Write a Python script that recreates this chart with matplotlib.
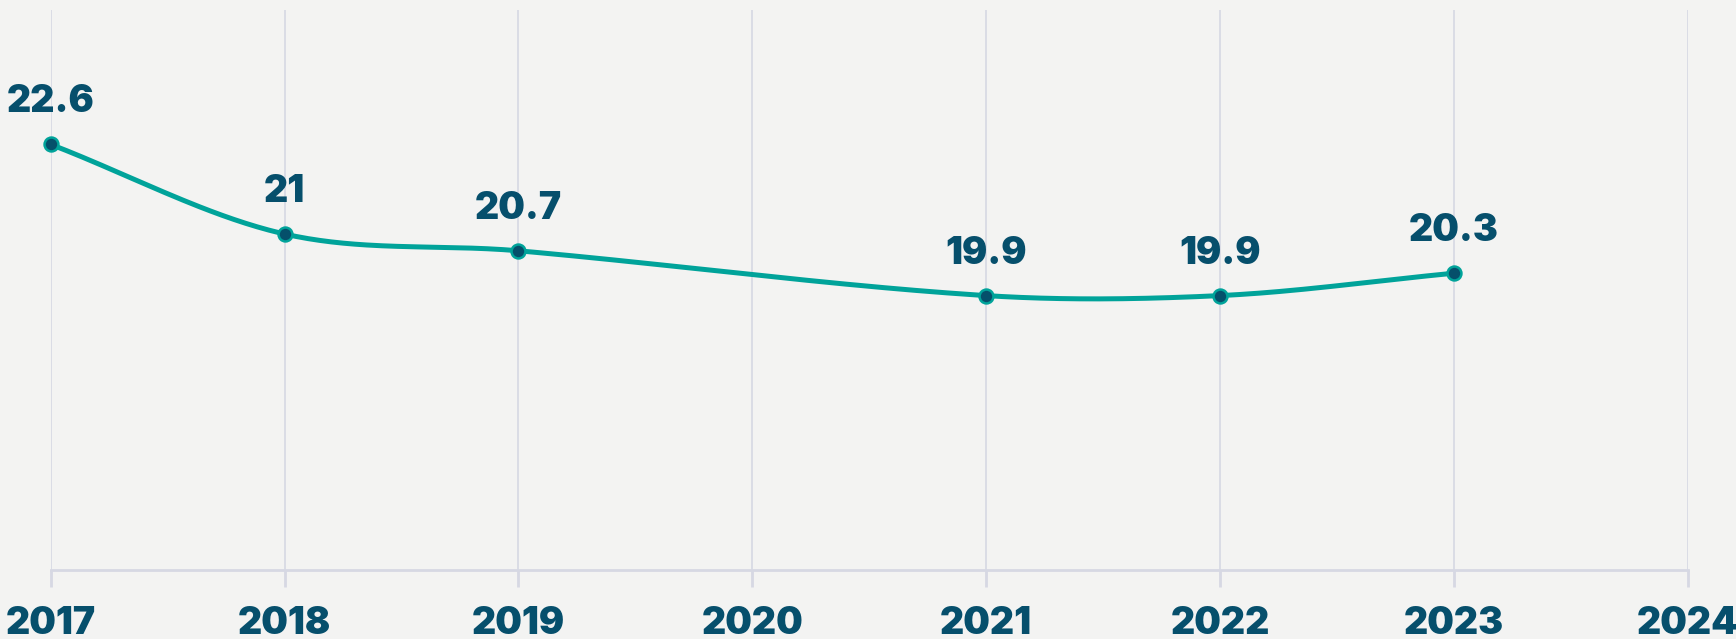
import numpy as np
import matplotlib
matplotlib.use("Agg")
import matplotlib.pyplot as plt

# Data
years = [2017, 2018, 2019, 2021, 2022, 2023]
values = [22.6, 21.0, 20.7, 19.9, 19.9, 20.3]
tick_years = [2017, 2018, 2019, 2020, 2021, 2022, 2023, 2024]
value_labels = ["22.6", "21", "20.7", "19.9", "19.9", "20.3"]

BG = "#F3F3F2"
GRID = "#D6D8E3"
LINE = "#00A39A"
DOT = "#05506B"
TEXT = "#064F6C"
FONT = ["Inter", "DejaVu Sans"]
WEIGHT = "black"


def smooth_curve(x, y, n=60):
    """Cubic Hermite curve through the points with Catmull-Rom style tangents."""
    x = np.asarray(x, float)
    y = np.asarray(y, float)
    m = np.empty_like(y)
    m[1:-1] = (y[2:] - y[:-2]) / (x[2:] - x[:-2])
    m[0] = (y[1] - y[0]) / (x[1] - x[0])
    m[-1] = (y[-1] - y[-2]) / (x[-1] - x[-2])
    xs, ys = [], []
    for i in range(len(x) - 1):
        h = x[i + 1] - x[i]
        t = np.linspace(0, 1, n, endpoint=(i == len(x) - 2))
        h00 = 2 * t**3 - 3 * t**2 + 1
        h10 = t**3 - 2 * t**2 + t
        h01 = -2 * t**3 + 3 * t**2
        h11 = t**3 - t**2
        xs.append(x[i] + t * h)
        ys.append(h00 * y[i] + h10 * h * m[i] + h01 * y[i + 1] + h11 * h * m[i + 1])
    return np.concatenate(xs), np.concatenate(ys)


fig = plt.figure(figsize=(17.36, 6.39), dpi=100, facecolor=BG)
ax = fig.add_axes([50.7 / 1736, 69 / 639, 1637 / 1736, 560 / 639])
ax.set_facecolor(BG)
ax.set_xlim(2017, 2024)
ax.set_ylim(15, 25)

# Vertical grid lines at every year
ax.vlines(tick_years, 15, 25, colors=GRID, linewidth=1.2, zorder=1)

for side in ("top", "right", "left"):
    ax.spines[side].set_visible(False)
ax.spines["bottom"].set_color(GRID)
ax.spines["bottom"].set_linewidth(2)
ax.spines["bottom"].set_clip_on(False)

ax.set_yticks([])
ax.set_xticks(tick_years)
ax.set_xticklabels([str(y) for y in tick_years])
ax.tick_params(axis="x", length=12, width=2, color=GRID, pad=14)
for lbl in ax.get_xticklabels():
    lbl.set_fontfamily(FONT)
    lbl.set_fontweight(WEIGHT)
    lbl.set_fontsize(27)
    lbl.set_color(TEXT)

# Smoothed line and markers
sx, sy = smooth_curve(years, values)
ax.plot(sx, sy, color=LINE, linewidth=3.6, solid_capstyle="round", zorder=3, clip_on=False)
ax.plot(years, values, linestyle="none", marker="o", markersize=10,
        markerfacecolor=DOT, markeredgecolor=LINE, markeredgewidth=1.8, zorder=4, clip_on=False)

for x, y, s in zip(years, values, value_labels):
    ax.annotate(s, (x, y), xytext=(0, 23), textcoords="offset points",
                ha="center", va="baseline", fontsize=27, fontweight=WEIGHT,
                family=FONT, color=TEXT, zorder=5, annotation_clip=False)

fig.savefig("out.png", dpi=100, facecolor=BG)
